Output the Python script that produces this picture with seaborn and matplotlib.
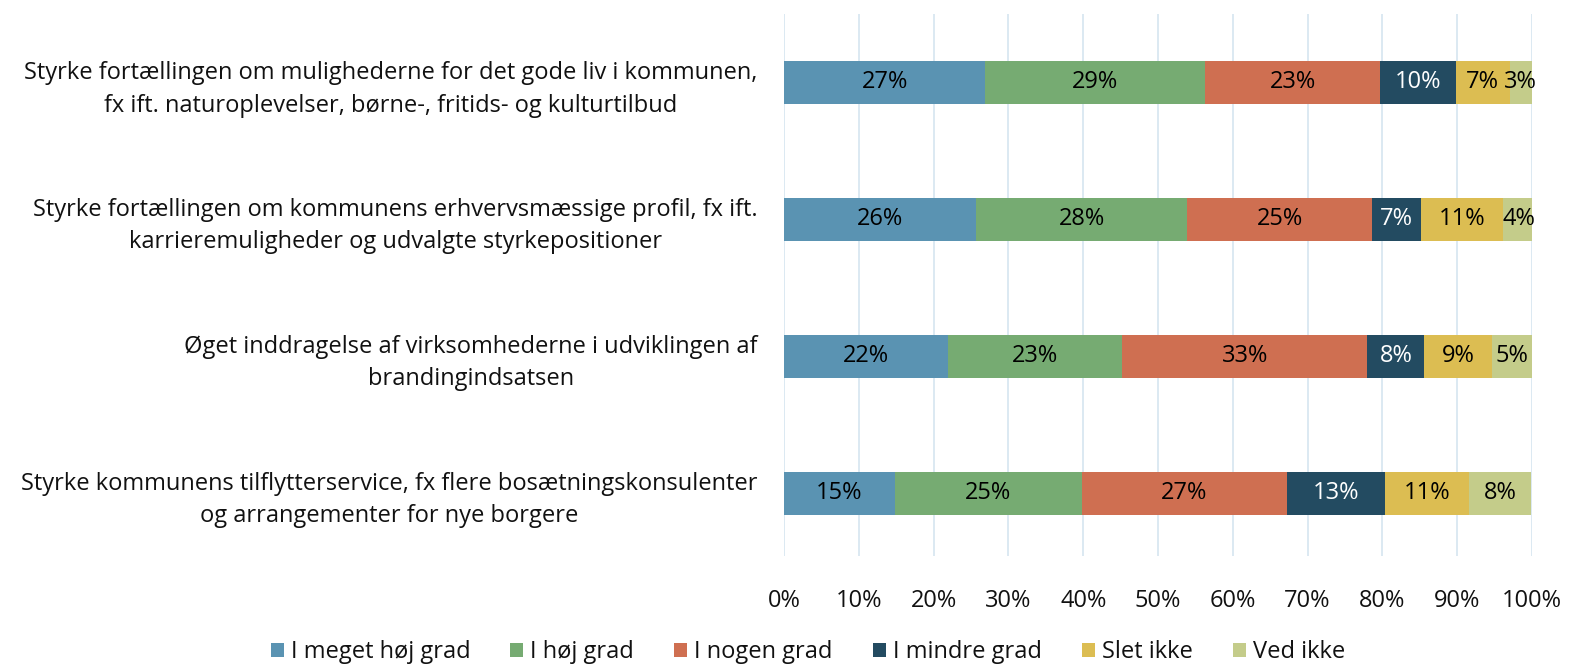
import matplotlib
matplotlib.use("Agg")
import matplotlib.pyplot as plt
import seaborn as sns
import pandas as pd
import numpy as np

# ----------------------
# Data
# ----------------------
statements = [
    "Styrke fortællingen om mulighederne for det gode liv i kommunen,\nfx ift. naturoplevelser, børne-, fritids- og kulturtilbud",
    "Styrke fortællingen om kommunens erhvervsmæssige profil, fx ift.\nkarrieremuligheder og udvalgte styrkepositioner",
    "Øget inddragelse af virksomhederne i udviklingen af\nbrandingindsatsen",
    "Styrke kommunens tilflytterservice, fx flere bosætningskonsulenter\nog arrangementer for nye borgere",
]
answers = ["I meget høj grad", "I høj grad", "I nogen grad", "I mindre grad", "Slet ikke", "Ved ikke"]

meget_hoej = [26.9, 25.7, 21.9, 14.8]
hoej = [29.4, 28.2, 23.3, 25.0]
nogen = [23.4, 24.7, 32.8, 27.4]
mindre = [10.1, 6.6, 7.6, 13.1]
slet_ikke = [7.2, 10.9, 9.0, 11.3]
ved_ikke = [3.0, 4.2, 5.4, 8.3]

colors = ["#5a93b2", "#76ab72", "#cf6f51", "#234b61", "#dcbd52", "#c4cc8a"]
text_colors = ["black", "black", "black", "white", "black", "black"]

df = pd.DataFrame({
    "statement": statements,
    answers[0]: meget_hoej,
    answers[1]: hoej,
    answers[2]: nogen,
    answers[3]: mindre,
    answers[4]: slet_ikke,
    answers[5]: ved_ikke,
})
cum = df[answers].cumsum(axis=1)

# ----------------------
# Plot
# ----------------------
sns.set_style("white")
plt.rcParams["font.family"] = ["Open Sans", "DejaVu Sans"]
plt.rcParams["text.color"] = "#111111"
plt.rcParams["xtick.color"] = "#111111"
plt.rcParams["ytick.color"] = "#111111"

fig = plt.figure(figsize=(15.75, 6.7), dpi=100)
ax = fig.add_axes([784 / 1575, 1 - 556 / 670, (1532 - 784) / 1575, (556 - 14) / 670])

# stacked bars: draw cumulative totals from the widest down
for i in range(len(answers) - 1, -1, -1):
    sns.barplot(x=cum[answers[i]], y=df["statement"], color=colors[i], orient="h",
                width=0.314, saturation=1, ax=ax, label=answers[i], linewidth=0)

for i, ans in enumerate(answers):
    left = cum[ans] - df[ans]
    for j in range(len(df)):
        ax.text(left[j] + df[ans][j] / 2, j, f"{df[ans][j]:.0f}%", ha="center", va="center",
                fontsize=17, color=text_colors[i])

ax.set_xlim(0, 100)
ax.set_ylim(3.46, -0.5)
ax.set_xticks(np.arange(0, 101, 10))
ax.set_xticklabels([f"{t}%" for t in range(0, 101, 10)], fontsize=17)
ax.set_yticks(range(len(statements)))
ax.set_yticklabels(statements, fontsize=17, multialignment="center", linespacing=1.45)
ax.tick_params(axis="x", length=0, pad=24)
ax.tick_params(axis="y", length=0, pad=19)
ax.set_xlabel("")
ax.set_ylabel("")
ax.grid(axis="x", color="#d9e7f1", linewidth=1.3)
ax.set_axisbelow(True)
for s in ax.spines.values():
    s.set_visible(False)

handles, labels = ax.get_legend_handles_labels()
order = [labels.index(a) for a in answers]
if ax.legend_:
    ax.legend_.remove()
fig.legend([handles[k] for k in order], answers, loc="center",
           bbox_to_anchor=(808 / 1575, 1 - 652 / 670), ncol=6, frameon=False,
           fontsize=17, handlelength=0.55, handleheight=0.55, handletextpad=0.3,
           columnspacing=1.7)

fig.savefig("out.png", dpi=100)
